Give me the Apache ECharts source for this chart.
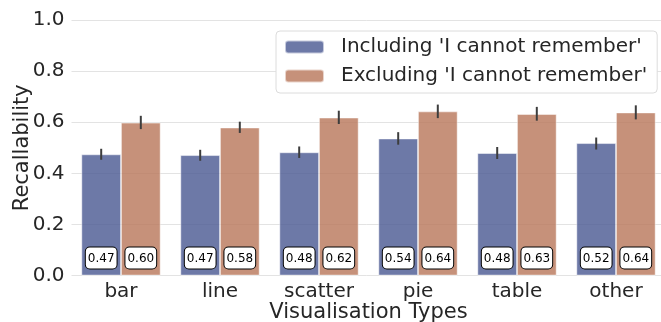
<!DOCTYPE html>
<html>
<head>
<meta charset="utf-8">
<script src="https://cdn.jsdelivr.net/npm/echarts@6/dist/echarts.min.js"></script>
<style>html,body{margin:0;padding:0;background:#fff;}#c{width:661px;height:322px;}</style>
</head>
<body>
<div id="c"></div>
<script>
const categories = ['bar', 'line', 'scatter', 'pie', 'table', 'other'];
const seriesNames = ["Including 'I cannot remember'", "Excluding 'I cannot remember'"];
const including = [0.474, 0.471, 0.482, 0.536, 0.479, 0.518];
const includingLow = [0.453, 0.449, 0.460, 0.512, 0.456, 0.493];
const includingHigh = [0.496, 0.492, 0.505, 0.561, 0.503, 0.540];
const excluding = [0.598, 0.579, 0.618, 0.642, 0.632, 0.638];
const excludingLow = [0.573, 0.558, 0.593, 0.616, 0.606, 0.611];
const excludingHigh = [0.625, 0.602, 0.645, 0.669, 0.660, 0.666];
const yTicks = [0, 0.2, 0.4, 0.6, 0.8, 1.0];

const textColor = '#262626';
const font = 'DejaVu Sans';
const colors = ['rgba(72,88,145,0.8)', 'rgba(184,118,89,0.8)'];

function errSeries(low, high, sign) {
  return {
    type: 'custom',
    z: 5,
    silent: true,
    data: categories.map((c, i) => [i, low[i], high[i]]),
    renderItem: function (params, api) {
      const i = api.value(0);
      const band = api.size([1, 0])[0];
      const p1 = api.coord([i, api.value(1)]);
      const p2 = api.coord([i, api.value(2)]);
      const x = p1[0] + sign * band * 0.2;
      return {
        type: 'line',
        shape: { x1: x, y1: p1[1], x2: x, y2: p2[1] },
        style: { stroke: '#3d3d3d', lineWidth: 2 }
      };
    }
  };
}

function labelCfg() {
  return {
    show: true,
    position: 'insideBottom',
    distance: 7,
    formatter: p => p.value.toFixed(2),
    fontFamily: font,
    fontSize: 12,
    color: '#000',
    backgroundColor: '#fff',
    borderColor: '#000',
    borderWidth: 1,
    borderRadius: 4,
    padding: [5, 2, 4, 2]
  };
}

const chart = echarts.init(document.getElementById('c'), null, { renderer: 'canvas' });
chart.setOption({
  backgroundColor: '#fff',
  animation: false,
  grid: { left: 71.5, top: 20, width: 594, height: 255.5, containLabel: false, outerBoundsMode: 'none' },
  legend: {
    orient: 'vertical',
    left: 276,
    top: 31,
    padding: [6, 10, 7, 8],
    itemWidth: 39,
    itemHeight: 13,
    itemGap: 9,
    backgroundColor: '#fff',
    borderColor: '#dcdcdc',
    borderWidth: 1,
    borderRadius: 4,
    textStyle: { fontFamily: font, fontSize: 20, color: textColor, padding: [0, 0, 0, 12] },
    data: seriesNames
  },
  xAxis: {
    type: 'category',
    data: categories,
    name: 'Visualisation Types',
    nameLocation: 'middle',
    nameGap: 27,
    nameMoveOverlap: false,
    nameTextStyle: { fontFamily: font, fontSize: 21, color: textColor },
    axisLine: { show: false },
    axisTick: { show: false },
    axisLabel: { fontFamily: font, fontSize: 20, color: textColor, margin: 6 },
    splitLine: { show: false }
  },
  yAxis: {
    type: 'value',
    min: 0,
    max: 1,
    interval: 0.2,
    name: 'Recallability',
    nameLocation: 'middle',
    nameGap: 38,
    nameMoveOverlap: false,
    nameTextStyle: { fontFamily: font, fontSize: 21, color: textColor },
    axisLine: { show: false },
    axisTick: { show: false },
    axisLabel: { fontFamily: font, fontSize: 20, color: textColor, margin: 7, formatter: v => v.toFixed(1) },
    splitLine: { show: true, lineStyle: { color: '#e3e3e3', width: 1 } }
  },
  series: [
    {
      name: seriesNames[0], type: 'bar', data: including,
      barGap: '0%', barCategoryGap: '20%',
      itemStyle: { color: colors[0], borderColor: 'rgba(255,255,255,0.6)', borderWidth: 0.8 },
      label: labelCfg()
    },
    {
      name: seriesNames[1], type: 'bar', data: excluding,
      barGap: '0%', barCategoryGap: '20%',
      itemStyle: { color: colors[1], borderColor: 'rgba(255,255,255,0.6)', borderWidth: 0.8 },
      label: labelCfg()
    },
    errSeries(includingLow, includingHigh, -1),
    errSeries(excludingLow, excludingHigh, 1)
  ]
});
</script>
</body>
</html>
